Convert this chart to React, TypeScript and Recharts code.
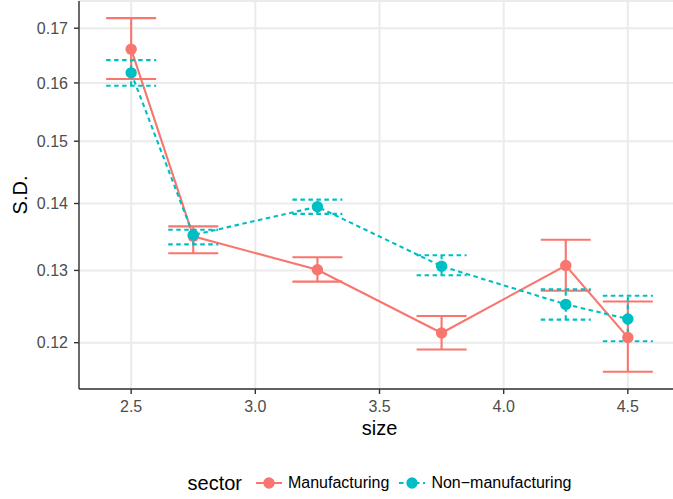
import React from "react";
import {
  CartesianGrid,
  ErrorBar,
  Legend,
  Line,
  LineChart,
  XAxis,
  YAxis
} from "recharts";

const SIZES = [2.5, 2.75, 3.25, 3.75, 4.25, 4.5];

const MANU_SD = [0.1661, 0.135, 0.1301, 0.1213, 0.1307, 0.1207];
const MANU_LOW = [0.1607, 0.1325, 0.1284, 0.1191, 0.1271, 0.1162];
const MANU_HIGH = [0.1719, 0.1365, 0.1319, 0.1236, 0.1345, 0.1256];

const NON_SD = [0.1618, 0.1352, 0.1395, 0.1306, 0.1252, 0.1232];
const NON_LOW = [0.1595, 0.1338, 0.1384, 0.1293, 0.1231, 0.1202];
const NON_HIGH = [0.1641, 0.136, 0.1406, 0.1322, 0.1273, 0.1264];

const X_TICKS = [2.5, 3.0, 3.5, 4.0, 4.5];
const Y_TICKS = [0.12, 0.13, 0.14, 0.15, 0.16, 0.17];

const SERIES = [
  { key: "manu", name: "Manufacturing", color: "#F8766D", dash: undefined as string | undefined },
  { key: "non", name: "Non\u2212manufacturing", color: "#00BFC4", dash: "4.5 3.5" }
];

const FONT = '"Liberation Sans", Arial, Helvetica, sans-serif';
const INK = "#333333";

const data = SIZES.map((x, i) => ({
  x,
  manu: MANU_SD[i],
  manuErr: [MANU_SD[i] - MANU_LOW[i], MANU_HIGH[i] - MANU_SD[i]],
  non: NON_SD[i],
  nonErr: [NON_SD[i] - NON_LOW[i], NON_HIGH[i] - NON_SD[i]]
}));

function SectorLegend() {
  return (
    <div
      style={{
        display: "flex",
        justifyContent: "center",
        alignItems: "center",
        height: 26,
        fontFamily: FONT,
        color: "#000"
      }}
    >
      <span style={{ fontSize: 20, marginRight: 14 }}>sector</span>
      {SERIES.map((s, i) => (
        <span
          key={s.key}
          style={{ display: "flex", alignItems: "center", marginRight: i < SERIES.length - 1 ? 10 : 0 }}
        >
          <svg width={26} height={16} style={{ marginRight: 6 }}>
            <line x1={0} y1={8} x2={26} y2={8} stroke={s.color} strokeWidth={2} strokeDasharray={s.dash} />
            <circle cx={13} cy={8} r={5.7} fill={s.color} />
          </svg>
          <span style={{ fontSize: 16 }}>{s.name}</span>
        </span>
      ))}
    </div>
  );
}

export default function App() {
  return (
    <div
      style={{
        position: "absolute",
        left: 0,
        top: 0,
        width: 673,
        height: 499,
        overflow: "hidden",
        background: "#fff",
        fontFamily: FONT
      }}
    >
      <LineChart width={680} height={499} data={data} margin={{ top: 1, right: 0, bottom: 0, left: 0 }}>
        <CartesianGrid stroke="#EBEBEB" strokeWidth={2} />
        <XAxis
          dataKey="x"
          type="number"
          domain={[2.29, 4.71]}
          ticks={X_TICKS}
          tickFormatter={(v: number) => v.toFixed(1)}
          allowDataOverflow
          height={110}
          tickSize={5}
          tickMargin={7}
          stroke={INK}
          axisLine={{ stroke: INK, strokeWidth: 1.4 }}
          tickLine={{ stroke: INK, strokeWidth: 1.4 }}
          tick={{ fill: "#4D4D4D", fontSize: 16 }}
          label={{ value: "size", position: "insideTop", offset: 32, fill: "#000", fontSize: 20 }}
        />
        <XAxis
          xAxisId="top"
          orientation="top"
          type="number"
          domain={[2.29, 4.71]}
          height={0}
          tick={false}
          tickLine={false}
          axisLine={{ stroke: INK, strokeWidth: 1.4 }}
        />
        <YAxis
          type="number"
          scale="log"
          domain={[0.114, 0.1752]}
          ticks={Y_TICKS}
          tickFormatter={(v: number) => v.toFixed(2)}
          allowDataOverflow
          width={79}
          tickSize={5}
          tickMargin={6}
          axisLine={{ stroke: INK, strokeWidth: 1.4 }}
          tickLine={{ stroke: INK, strokeWidth: 1.4 }}
          tick={{ fill: "#4D4D4D", fontSize: 16 }}
          label={{
            value: "S.D.",
            angle: -90,
            position: "insideLeft",
            offset: 20,
            fill: "#000",
            fontSize: 20,
            style: { textAnchor: "middle" }
          }}
        />
        {SERIES.map((s) => (
          <Line
            key={s.key}
            dataKey={s.key}
            name={s.name}
            stroke={s.color}
            strokeWidth={2.1}
            strokeDasharray={s.dash}
            dot={{ r: 5.7, fill: s.color, stroke: "none", strokeDasharray: "" }}
            activeDot={false}
            isAnimationActive={false}
          >
            <ErrorBar
              dataKey={`${s.key}Err`}
              width={25}
              stroke={s.color}
              strokeWidth={2.1}
              strokeDasharray={s.dash}
              isAnimationActive={false}
            />
          </Line>
        ))}
        <Legend
          verticalAlign="middle"
          layout="horizontal"
          wrapperStyle={{ left: 79, top: 470, width: 601 }}
          content={() => <SectorLegend />}
        />
      </LineChart>
    </div>
  );
}
